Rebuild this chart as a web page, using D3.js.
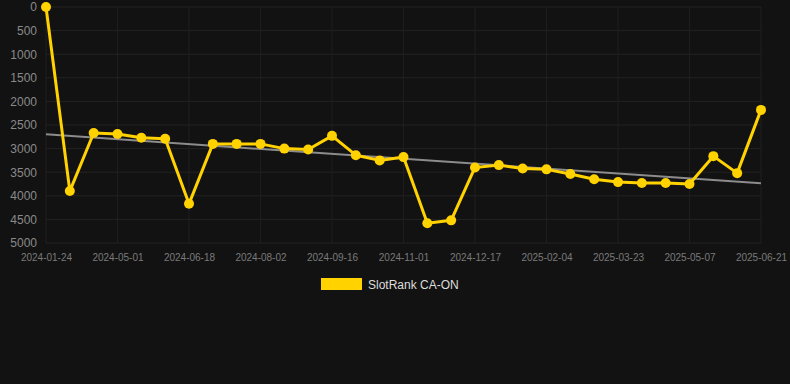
<!DOCTYPE html>
<html lang="en">
	<head>
		<meta charset="utf-8">
		<title>SlotRank CA-ON</title>
		<script type="text/javascript" src="https://cdn.jsdelivr.net/npm/d3@7"></script>
		<style type="text/css">
			body { margin: 0; background: #121212; }
			svg { display: block; }
		</style>
	</head>
	<body>
		<script type="text/javascript">

			//Width and height
			var w = 790;
			var h = 384;
			var margin = { top: 7, right: 29, bottom: 141, left: 46 };

			//Category dates (every third one is labelled)
			var dates = [
				"2024-01-24", "2024-04-03", "2024-04-17", "2024-05-01", "2024-05-17", "2024-06-02",
				"2024-06-18", "2024-07-03", "2024-07-18", "2024-08-02", "2024-08-17", "2024-09-01",
				"2024-09-16", "2024-10-01", "2024-10-17", "2024-11-01", "2024-11-16", "2024-12-02",
				"2024-12-17", "2025-01-02", "2025-01-19", "2025-02-04", "2025-02-20", "2025-03-07",
				"2025-03-23", "2025-04-07", "2025-04-22", "2025-05-07", "2025-05-22", "2025-06-06",
				"2025-06-21"
			];

			//SlotRank CA-ON rank values
			var ranks = [
				0, 3900, 2670, 2690, 2770, 2790, 4170, 2900, 2900, 2900, 3000, 3020,
				2730, 3140, 3250, 3180, 4580, 4520, 3400, 3350, 3420, 3440, 3540, 3650,
				3710, 3730, 3730, 3750, 3160, 3520, 2180
			];

			var yTicks = [0, 500, 1000, 1500, 2000, 2500, 3000, 3500, 4000, 4500, 5000];
			var seriesName = "SlotRank CA-ON";

			var dataset = dates.map(function(d, i) {
				return { date: d, value: ranks[i] };
			});

			//Scales
			var xScale = d3.scalePoint()
						   .domain(dates)
						   .range([margin.left, w - margin.right]);

			var yScale = d3.scaleLinear()
						   .domain([0, 5000])
						   .range([margin.top, h - margin.bottom]);

			//Create SVG element
			var svg = d3.select("body")
						.append("svg")
						.attr("width", w)
						.attr("height", h);

			svg.append("rect")
				.attr("width", w)
				.attr("height", h)
				.attr("fill", "#121212");

			var labelled = dates.filter(function(d, i) { return i % 3 === 0; });

			//Horizontal grid
			svg.append("g")
				.selectAll("line")
				.data(yTicks)
				.enter()
				.append("line")
				.attr("x1", margin.left)
				.attr("x2", w - margin.right)
				.attr("y1", function(d) { return yScale(d); })
				.attr("y2", function(d) { return yScale(d); })
				.attr("stroke", "#232323")
				.attr("stroke-width", 1);

			//Vertical grid
			svg.append("g")
				.selectAll("line")
				.data(labelled)
				.enter()
				.append("line")
				.attr("x1", function(d) { return xScale(d); })
				.attr("x2", function(d) { return xScale(d); })
				.attr("y1", margin.top)
				.attr("y2", h - margin.bottom)
				.attr("stroke", "#1e1e1e")
				.attr("stroke-width", 1);

			//Y axis
			var yAxis = d3.axisLeft(yScale)
						  .tickValues(yTicks)
						  .tickSize(0)
						  .tickPadding(9)
						  .tickFormat(d3.format("d"));

			var gy = svg.append("g")
				.attr("class", "y axis")
				.attr("transform", "translate(" + margin.left + ",0)")
				.call(yAxis);
			gy.select(".domain").remove();
			gy.selectAll("text")
				.attr("fill", "#8a8a8a")
				.attr("font-family", "Arial, 'Liberation Sans', sans-serif")
				.attr("font-size", "12px");

			//X axis
			var xAxis = d3.axisBottom(xScale)
						  .tickValues(labelled)
						  .tickSize(0)
						  .tickPadding(11);

			var gx = svg.append("g")
				.attr("class", "x axis")
				.attr("transform", "translate(0," + (h - margin.bottom) + ")")
				.call(xAxis);
			gx.select(".domain").remove();
			gx.selectAll("text")
				.attr("fill", "#7a7a7a")
				.attr("font-family", "Arial, 'Liberation Sans', sans-serif")
				.attr("font-size", "10px");

			//Trend line (least squares over the category index)
			var n = ranks.length;
			var mx = d3.mean(ranks, function(d, i) { return i; });
			var my = d3.mean(ranks);
			var sxy = d3.sum(ranks, function(d, i) { return (i - mx) * (d - my); });
			var sxx = d3.sum(ranks, function(d, i) { return (i - mx) * (i - mx); });
			var slope = sxy / sxx;
			var icpt = my - slope * mx;

			svg.append("line")
				.attr("x1", xScale(dates[0]))
				.attr("y1", yScale(icpt))
				.attr("x2", xScale(dates[n - 1]))
				.attr("y2", yScale(icpt + slope * (n - 1)))
				.attr("stroke", "#8c8c8c")
				.attr("stroke-width", 2);

			//Series line
			var line = d3.line()
						 .x(function(d) { return xScale(d.date); })
						 .y(function(d) { return yScale(d.value); });

			svg.append("path")
				.datum(dataset)
				.attr("d", line)
				.attr("fill", "none")
				.attr("stroke", "#ffd200")
				.attr("stroke-width", 3)
				.attr("stroke-linejoin", "round");

			svg.append("g")
				.selectAll("circle")
				.data(dataset)
				.enter()
				.append("circle")
				.attr("cx", function(d) { return xScale(d.date); })
				.attr("cy", function(d) { return yScale(d.value); })
				.attr("r", 5)
				.attr("fill", "#ffd200");

			//Legend
			var legend = svg.append("g")
				.attr("transform", "translate(321,278)");

			legend.append("rect")
				.attr("width", 41)
				.attr("height", 12)
				.attr("fill", "#ffd200");

			legend.append("text")
				.attr("x", 47)
				.attr("y", 10.5)
				.text(seriesName)
				.attr("fill", "#dddddd")
				.attr("font-family", "Arial, 'Liberation Sans', sans-serif")
				.attr("font-size", "12px");

		</script>
	</body>
</html>
